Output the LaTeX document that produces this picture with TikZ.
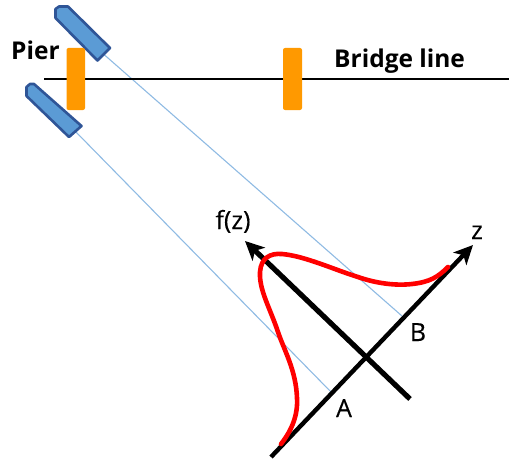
\documentclass[tikz,border=0pt]{standalone}
\usepackage{fontspec}
\setmainfont{Open Sans}
\newfontfamily\medfont[FakeBold=0.35]{Open Sans}
\usetikzlibrary{arrows.meta}
\definecolor{beam}{HTML}{8FBBE3}
\definecolor{sensfill}{HTML}{5B9BD5}
\definecolor{sensline}{HTML}{2F5597}
\definecolor{pier}{HTML}{FF9900}
\tikzset{
  beamline/.style={draw=beam,line width=1.1pt},
  sensor/.style={fill=sensfill,draw=sensline,line width=2.6pt,line join=round},
  pierbar/.style={fill=pier,draw=none,rounded corners=2pt},
  axis/.style={draw=black,-{Stealth[length=19pt,width=18pt,inset=5pt]}},
  lab/.style={inner sep=0pt,text=black,font=\fontsize{25}{28}\medfont},
  blab/.style={inner sep=0pt,text=black,font=\fontsize{24.5}{28}\selectfont\bfseries}
}
\begin{document}
\begin{tikzpicture}[x=1pt,y=-1pt]
\useasboundingbox (0,0) rectangle (514,460);
\coordinate (s1) at (104,54.5);
\coordinate (s2) at (75.5,131.5);
\coordinate (b) at (402,316);
\coordinate (a) at (332,393);
\coordinate (zs) at (271,457);
\coordinate (zt) at (473,245);
\coordinate (fs) at (410,399);
\coordinate (ft) at (245,241);
\coordinate (l1) at (44,79);
\coordinate (l2) at (509,79);
% beams
\draw[beamline] (s1) -- (b);
\draw[beamline] (s2) -- (a);
% bridge line
\draw[black,line width=2pt] (l1) -- (l2);
% sensors
\draw[sensor] (55.5,18) -- (55.5,9) -- (59,6.5) -- (68,6.5) -- (110,48) -- (97.5,60.5) -- cycle;
\draw[sensor] (26.5,96) -- (26.5,87) -- (30,84) -- (34,84) -- (81.5,126) -- (69,137) -- cycle;
% piers
\fill[pierbar] (66.5,48) rectangle (85,110);
\fill[pierbar] (283,48) rectangle (302,110);
% axes
\draw[axis,line width=4.4pt] (zs) -- (zt);
\draw[axis,line width=5.2pt] (fs) -- (ft);
% density
\draw[red,line width=4.6pt,line cap=round]
 (281,444) .. controls (292,430) and (298,415) .. (297,398)
 .. controls (296,370) and (284,350) .. (278,332)
 .. controls (270,308) and (259,290) .. (260,272)
 .. controls (261,258) and (270,253) .. (282,254)
 .. controls (305,256) and (335,270) .. (358,277)
 .. controls (375,283) and (395,286) .. (412,284)
 .. controls (430,282) and (438,277) .. (448,267);
% labels
\node[blab,anchor=base west] (pierl) at (11,59.5) {Pier};
\node[blab,anchor=base west] (bridgel) at (334,67) {Bridge line};
\node[lab,anchor=base] (fl) at (233,229) {f(z)};
\node[lab,anchor=base] (zl) at (477,239) {z};
\node[lab,anchor=base] (bl) at (418,341) {B};
\node[lab,anchor=base] (al) at (344,417) {A};
\end{tikzpicture}
\end{document}
